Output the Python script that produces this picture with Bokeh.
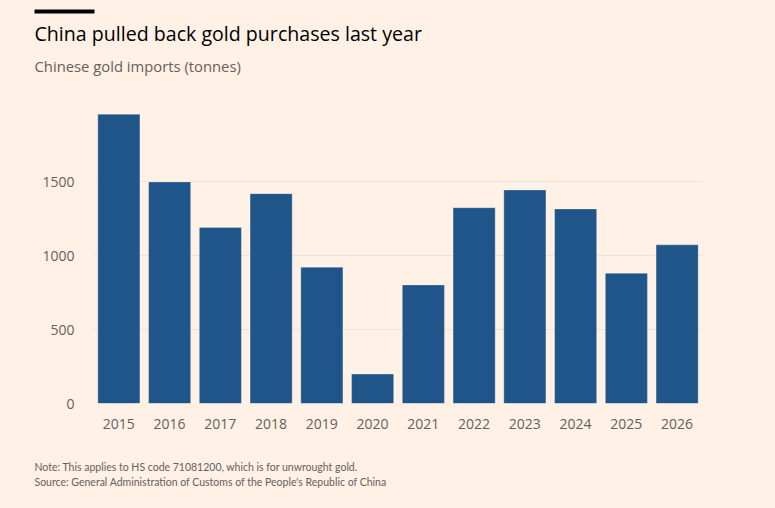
from bokeh.plotting import figure
from bokeh.layouts import column
from bokeh.models import Label, BoxAnnotation, FixedTicker, FactorRange, Range1d
from bokeh.embed import file_html
from bokeh.resources import INLINE

years = ["2015", "2016", "2017", "2018", "2019", "2020",
         "2021", "2022", "2023", "2024", "2025", "2026"]
imports_tonnes = [1955, 1497, 1190, 1418, 921, 199,
                  801, 1323, 1443, 1315, 880, 1072]
y_ticks = [0, 500, 1000, 1500, 2000]

title_text = "China pulled back gold purchases last year"
subtitle_text = "Chinese gold imports (tonnes)"
note_text = "Note: This applies to HS code 71081200, which is for unwrought gold."
source_text = "Source: General Administration of Customs of the People's Republic of China"

BG = "#FFF1E5"
BAR = "#20558a"
GREY = "#66605c"
FONT = "Open Sans"
NOTE_FONT = "Lato"
W = 775


def text_panel(h):
    f = figure(width=W, height=h, x_range=Range1d(0, W), y_range=Range1d(h, 0),
               output_backend="svg", toolbar_location=None, min_border=0,
               frame_align=False)
    f.axis.visible = False
    f.grid.grid_line_color = None
    f.outline_line_color = None
    f.background_fill_color = BG
    f.border_fill_color = BG
    return f


# ---- header ----
top = text_panel(107)
top.add_layout(BoxAnnotation(left=34, right=94, top=9, bottom=13,
                             fill_color="#000000", fill_alpha=1, line_color=None))
top.add_layout(Label(x=34, y=33, text=title_text, text_font=FONT,
                     text_font_size="19.6px", text_color="#000000",
                     text_baseline="alphabetic"))
top.add_layout(Label(x=34, y=65.5, text=subtitle_text, text_font=FONT,
                     text_font_size="14.8px", text_color=GREY,
                     text_baseline="alphabetic"))

# ---- chart ----
p = figure(
    width=W, height=343,
    x_range=FactorRange(*years, range_padding=0),
    y_range=(0, 2000),
    output_backend="svg", toolbar_location=None,
    min_border_left=93, min_border_right=73,
    min_border_top=0, min_border_bottom=47,
    frame_align=False,
)
p.background_fill_color = BG
p.border_fill_color = BG
p.outline_line_color = None

p.vbar(x=years, top=imports_tonnes, width=0.83, color=BAR,
       line_color="#ffffff", line_alpha=0.3, line_width=1)

for ax in (p.xaxis, p.yaxis):
    ax.axis_line_color = None
    ax.major_tick_line_color = None
    ax.minor_tick_line_color = None
    ax.major_tick_out = 0
    ax.major_tick_in = 0
    ax.minor_tick_out = 0
    ax.major_label_text_color = GREY
    ax.major_label_text_font = FONT
    ax.major_label_text_font_size = "14px"

p.yaxis.ticker = FixedTicker(ticks=y_ticks)
p.yaxis.major_label_overrides = {2000: ""}
p.yaxis.major_label_standoff = 19
p.xaxis.major_label_standoff = 15

p.xgrid.grid_line_color = None
p.ygrid.grid_line_color = "#f3e2d4"
p.ygrid.grid_line_width = 1

# ---- footer ----
bottom = text_panel(58)
bottom.add_layout(Label(x=34, y=16, text=note_text, text_font=NOTE_FONT,
                        text_font_size="10.5px", text_color=GREY,
                        text_baseline="alphabetic"))
bottom.add_layout(Label(x=34, y=31.5, text=source_text, text_font=NOTE_FONT,
                        text_font_size="10.5px", text_color=GREY,
                        text_baseline="alphabetic"))

page = column(top, p, bottom, spacing=0, styles={"background-color": BG})
open("out.html", "w").write(file_html(page, INLINE))
